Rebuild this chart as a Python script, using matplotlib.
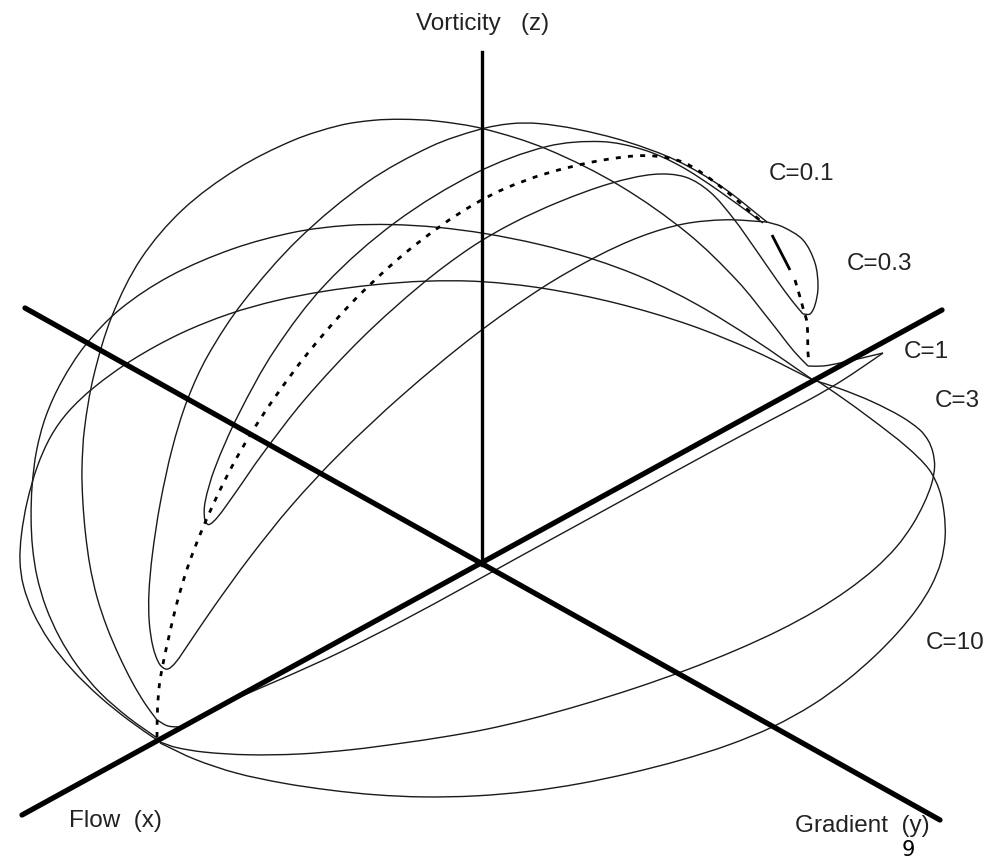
import matplotlib
matplotlib.use("Agg")
import matplotlib.pyplot as plt
import numpy as np
from matplotlib.patches import PathPatch
from matplotlib.path import Path

flow_axis = [(22, 815), (942, 310)]
gradient_axis = [(25, 308), (940, 820)]
vorticity_axis = [(482, 52), (482, 565)]

c10_upper = [(160, 742), (130, 722), (100, 697), (72, 668), (50, 643), (33, 612), (23, 583), (21, 560), (22, 540),
             (27, 500), (37, 467), (53, 433), (70, 412), (90, 393), (133, 357), (180, 334), (233, 313), (275, 302),
             (320, 292), (375, 285), (427, 282), (480, 282), (543, 288), (613, 303), (700, 327), (750, 350), (813, 380)]
c10_lower = [(160, 743), (195, 760), (233, 773), (285, 783), (333, 790), (375, 794), (417, 797), (480, 796), (530, 791),
             (580, 783), (630, 773), (680, 760), (730, 744), (773, 727), (812, 705), (847, 680), (875, 655), (897, 633),
             (918, 607), (930, 587), (941, 562), (945, 537), (944, 515), (937, 487), (927, 467), (913, 453),
             (873, 420), (827, 387), (813, 378)]
c3_upper = [(160, 740), (128, 718), (100, 693), (78, 666), (60, 637), (46, 607), (37, 577), (33, 547), (32, 517),
            (32, 490), (37, 447), (47, 415), (60, 387), (90, 340), (117, 313), (167, 277), (233, 247), (300, 232),
            (345, 227), (390, 225), (440, 228), (480, 233), (540, 245), (597, 260), (640, 278), (700, 305),
            (750, 337), (813, 380)]
c3_lower = [(160, 742), (175, 747), (200, 752), (250, 755), (300, 754), (350, 750), (400, 743), (450, 735), (480, 731),
            (530, 719), (580, 705), (635, 688), (687, 670), (735, 650), (780, 630), (815, 611), (847, 590), (875, 568),
            (897, 547), (912, 525), (923, 503), (932, 483), (935, 467), (932, 452), (927, 440), (918, 430), (907, 420),
            (873, 400), (833, 387), (813, 380)]
c1_hook_left = [(183, 727), (168, 726), (157, 720)]
c1_upper = [(157, 720), (145, 705), (133, 683), (119, 655), (107, 627), (97, 597), (90, 567),
            (86, 533), (83, 500), (83, 467), (85, 433), (93, 377), (113, 313), (143, 257), (180, 213), (233, 170),
            (300, 137), (340, 127), (373, 122), (405, 120), (433, 122), (483, 130), (547, 148), (613, 180), (700, 242),
            (733, 277), (767, 320), (800, 360), (808, 366)]
c1_hook_right = [(808, 366), (823, 366), (840, 363), (862, 358), (883, 353)]
c1_lower = [(883, 353), (867, 363), (833, 387), (813, 398), (770, 420), (713, 450), (630, 497), (570, 529), (513, 560),
            (480, 578), (400, 623), (340, 652), (283, 680), (240, 694), (205, 713)]
# closed orbits run round their left tip, so the tip stays a small U
c03_loop = [(767, 222), (720, 183), (680, 163), (630, 143), (570, 127), (537, 125), (510, 126), (483, 130), (433, 147),
            (367, 180), (300, 233), (237, 313), (210, 355), (190, 397), (173, 447), (160, 497), (152, 567), (150, 590),
            (149, 617), (153, 650), (160, 665), (168, 667), (177, 660), (187, 647), (213, 607), (250, 557), (300, 497),
            (333, 460), (400, 400), (480, 327), (543, 288), (597, 260), (640, 236), (680, 225), (730, 218), (767, 222)]
c03_bump = [(767, 222), (783, 227), (803, 240), (815, 263), (818, 287), (815, 305), (810, 314), (803, 314)]
c01_loop = [(763, 223), (713, 187), (680, 167), (647, 152), (597, 143), (550, 148), (483, 167), (390, 225), (320, 290),
            (283, 340), (237, 420), (213, 470), (207, 500), (206, 518), (210, 523), (218, 516), (232, 498), (267, 450),
            (300, 405), (360, 335), (427, 282), (480, 243), (497, 233), (563, 200), (613, 182), (653, 176), (687, 178),
            (707, 190), (733, 218), (757, 253), (777, 280), (793, 303), (803, 314)]
dash_main = [(157, 737), (157, 710), (160, 677), (163, 667), (170, 637), (177, 600), (187, 567), (203, 530), (217, 497),
             (233, 463), (253, 433), (273, 400), (307, 355), (350, 303), (397, 260), (443, 223), (483, 203), (493, 195),
             (547, 172), (597, 160), (657, 158), (680, 163), (713, 180), (763, 223)]
dash_solid = [(772, 235), (790, 270)]
dash_end = [(795, 280), (800, 297), (803, 308), (807, 323), (808, 353), (809, 363)]

labels = ["Vorticity   (z)", "C=0.1", "C=0.3", "C=1", "C=3", "C=10", "Flow  (x)", "Gradient  (y)"]
label_xy = [(483, 24), (801, 174), (880, 264), (926, 352), (957, 401), (955, 643), (115, 821), (862, 826)]
page_number = "9"


def smooth_path(points, passes=4):
    # bezier through the read points, tangents scaled by chord length
    p = np.array(points, dtype=float)
    # hand read points are a bit noisy, take the jitter out without shrinking the arcs (ends stay put)
    for _ in range(passes if len(p) > 8 else 0):
        for k in (0.5, -0.53):
            p[1:-1] = p[1:-1] + k * (0.5 * p[:-2] + 0.5 * p[2:] - p[1:-1])
    d = np.hypot(*np.diff(p, axis=0).T)
    m = np.zeros_like(p)
    m[1:-1] = (p[2:] - p[:-2]) / (d[1:] + d[:-1])[:, None]
    m[0] = (p[1] - p[0]) / d[0]
    m[-1] = (p[-1] - p[-2]) / d[-1]
    verts = [p[0]]
    codes = [Path.MOVETO]
    for i in range(len(p) - 1):
        verts += [p[i] + m[i] * d[i] / 3, p[i + 1] - m[i + 1] * d[i] / 3, p[i + 1]]
        codes += [Path.CURVE4] * 3
    return Path(verts, codes)


def draw_curve(ax, points, **kw):
    ax.add_patch(PathPatch(smooth_path(points), fill=False, capstyle="butt", **kw))


fig = plt.figure(figsize=(10.01, 8.61), dpi=100)
ax = fig.add_axes([0, 0, 1, 1])
ax.set_xlim(0, 1001)
ax.set_ylim(861, 0)
ax.axis("off")

for curve in [c10_upper, c10_lower, c3_upper, c3_lower, c1_hook_left, c1_upper, c1_hook_right, c1_lower,
              c03_loop, c03_bump, c01_loop]:
    draw_curve(ax, curve, edgecolor="#1a1a1a", lw=1.0)

for axis_line in [flow_axis, gradient_axis]:
    ax.plot([p[0] for p in axis_line], [p[1] for p in axis_line], color="black", lw=3.8, solid_capstyle="round")
ax.plot([p[0] for p in vorticity_axis], [p[1] for p in vorticity_axis], color="black", lw=2.4)

draw_curve(ax, dash_main, edgecolor="black", lw=2.0, ls=(0, (1.8, 2.6)))
draw_curve(ax, dash_solid, edgecolor="black", lw=2.0)
draw_curve(ax, dash_end, edgecolor="black", lw=2.0, ls=(0, (2.0, 2.4)))

for s, xy in zip(labels, label_xy):
    ax.text(xy[0], xy[1], s, family="Liberation Sans", fontsize=17.5, ha="center", va="center", color="#222222")

# page number at the bottom edge
ax.text(908, 856, page_number, family="DejaVu Sans", fontsize=15, ha="center", va="baseline", color="black")

fig.savefig("out.png", dpi=100)
